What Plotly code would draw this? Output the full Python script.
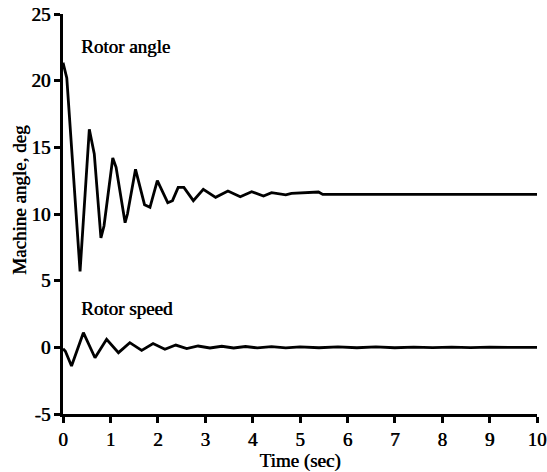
import plotly.graph_objects as go

# Rotor angle (deg) vs time (s)
angle_t = [0.0, 0.08, 0.36, 0.555, 0.66, 0.80, 0.865, 1.05, 1.12, 1.31, 1.36, 1.53, 1.72, 1.835,
           1.99, 2.21, 2.31, 2.43, 2.55, 2.75, 2.96, 3.22, 3.48, 3.74, 3.98, 4.23, 4.40, 4.70,
           4.82, 5.28, 5.39, 5.48, 10.0]
angle_v = [21.35, 20.2, 5.7, 16.35, 14.5, 8.2, 9.1, 14.2, 13.5, 9.35, 10.0, 13.35, 10.7, 10.5,
           12.5, 10.85, 11.0, 12.0, 12.0, 11.0, 11.85, 11.25, 11.72, 11.3, 11.67, 11.35, 11.6, 11.43,
           11.55, 11.6, 11.65, 11.47, 11.47]

# Rotor speed vs time (s)
speed_t = [0.0, 0.05, 0.18, 0.43, 0.675, 0.92, 1.17, 1.41, 1.66, 1.90, 2.15, 2.38, 2.61, 2.85,
           3.1, 3.35, 3.6, 3.85, 4.1, 4.4, 4.7, 5.0, 5.4, 5.8, 6.2, 6.6, 7.0, 7.4, 7.8, 8.2,
           8.6, 9.0, 9.4, 9.8, 10.0]
speed_v = [-0.1, -0.3, -1.4, 1.1, -0.78, 0.6, -0.4, 0.35, -0.23, 0.28, -0.15, 0.17, -0.1, 0.1,
           -0.05, 0.08, -0.05, 0.06, -0.04, 0.05, -0.04, 0.04, -0.03, 0.03, -0.03, 0.03, -0.03, 0.02,
           -0.02, 0.02, -0.02, 0.02, -0.01, 0.01, 0.0]

x_ticks = list(range(0, 11))
x_labels = [str(v) for v in x_ticks]
y_ticks = [-5, 0, 5, 10, 15, 20, 25]
y_labels = ["-5", "0", "5", "10", "15", "20", "25"]

font_family = "Liberation Serif, Times New Roman, serif"
shadow = "0.6px 0px 0px #000"
base_font = dict(family=font_family, size=19, color="black", shadow=shadow)

fig = go.Figure()
fig.add_trace(go.Scatter(x=angle_t, y=angle_v, mode="lines",
                         line=dict(color="black", width=2.8), showlegend=False))
fig.add_trace(go.Scatter(x=speed_t, y=speed_v, mode="lines",
                         line=dict(color="black", width=2.8), showlegend=False))

fig.add_annotation(x=0.33, y=22.6, text="Rotor angle", showarrow=False,
                   xanchor="left", yanchor="middle", font=base_font)
fig.add_annotation(x=0.33, y=2.9, text="Rotor speed", showarrow=False,
                   xanchor="left", yanchor="middle", font=base_font)
# y-axis title (placed as rotated text, as in the reference it sits slightly above centre)
fig.add_annotation(x=-0.093, y=0.535, xref="paper", yref="paper",
                   text="Machine angle, deg", textangle=-90, showarrow=False,
                   xanchor="center", yanchor="middle", font=base_font)

fig.update_layout(
    width=547, height=472,
    margin=dict(l=63, r=10, t=14, b=58),
    paper_bgcolor="white", plot_bgcolor="white",
    font=base_font,
    xaxis=dict(range=[0, 10], tickvals=x_ticks, ticktext=x_labels,
               showgrid=False, zeroline=False, automargin=False,
               showline=True, linecolor="black", linewidth=2.8,
               ticks="outside", ticklen=6, tickwidth=2.5, tickcolor="black",
               tickfont=base_font,
               title=dict(text="Time (sec)", standoff=3, font=base_font)),
    yaxis=dict(range=[-5, 25], tickvals=y_ticks, ticktext=y_labels,
               showgrid=False, zeroline=False, automargin=False,
               showline=True, linecolor="black", linewidth=2.8,
               ticks="outside", ticklen=6, tickwidth=2.5, tickcolor="black",
               tickfont=base_font),
)

fig.write_html("out.html")
